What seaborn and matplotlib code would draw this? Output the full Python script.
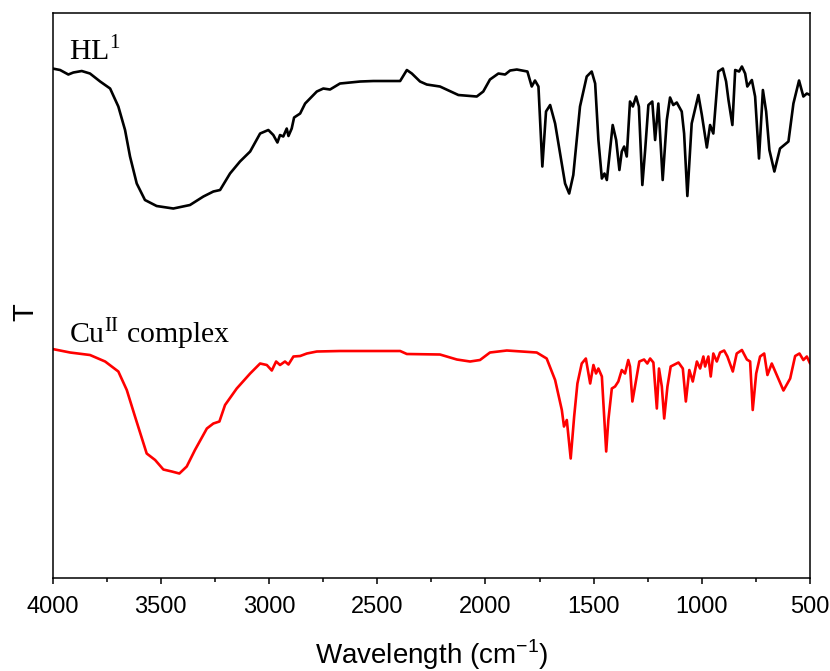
import numpy as np
import pandas as pd
import matplotlib
matplotlib.use("Agg")
import matplotlib.pyplot as plt
from matplotlib.ticker import MultipleLocator
import seaborn as sns

# IR spectra (wavenumber in cm-1, T in arbitrary units)
hl_wn = [4000, 3965, 3927, 3904, 3865, 3827, 3780, 3734, 3696, 3665, 3642, 3611, 3573, 3519,
         3442, 3365, 3303, 3257, 3226, 3180, 3134, 3087, 3041, 3003, 2980, 2961, 2949, 2934,
         2918, 2910, 2895, 2884, 2856, 2833, 2779, 2749, 2718, 2672, 2625, 2579, 2518, 2394,
         2363, 2340, 2302, 2271, 2210, 2125, 2040, 2010, 1979, 1940, 1909, 1886, 1855, 1806,
         1786, 1771, 1755, 1737, 1720, 1701, 1678, 1647, 1632, 1613, 1594, 1563, 1532, 1509,
         1493, 1478, 1462, 1450, 1439, 1424, 1412, 1396, 1381, 1370, 1359, 1347, 1332, 1319,
         1304, 1291, 1275, 1262, 1247, 1229, 1216, 1201, 1181, 1162, 1147, 1132, 1116, 1093,
         1082, 1067, 1047, 1016, 1000, 977, 962, 947, 924, 903, 888, 877, 859, 846, 828, 815,
         800, 790, 769, 754, 736, 718, 703, 688, 665, 639, 600, 577, 551, 531, 515, 500]
hl_t = [106.3, 106.0, 105.1, 105.5, 105.8, 105.3, 103.7, 102.3, 98.7, 94.0, 88.7, 83.3, 80.0, 78.8,
        78.3, 79.0, 80.7, 81.7, 82.0, 85.3, 87.7, 89.7, 93.3, 94.0, 93.0, 91.5, 93.0, 92.7,
        94.3, 92.8, 94.3, 96.5, 97.3, 99.3, 101.7, 102.3, 102.1, 103.3, 103.5, 103.7, 103.8, 103.8,
        106.0, 105.3, 103.7, 103.1, 102.7, 101.0, 100.7, 101.7, 104.1, 105.3, 105.1, 105.9, 106.1, 105.7,
        102.7, 103.9, 102.7, 86.7, 97.7, 99.0, 95.3, 87.3, 83.3, 81.3, 85.0, 98.7, 104.7, 105.7,
        103.3, 92.0, 84.3, 85.3, 84.0, 90.0, 95.0, 92.0, 86.0, 89.7, 90.7, 88.7, 99.7, 98.7,
        100.7, 98.7, 83.0, 90.0, 99.0, 99.7, 92.0, 99.3, 84.0, 96.0, 100.5, 99.0, 99.5, 97.7,
        93.3, 80.8, 95.3, 101.0, 97.0, 90.5, 95.0, 93.3, 105.7, 106.3, 103.7, 100.0, 95.0, 106.0, 105.7, 106.7,
        105.3, 102.7, 104.0, 100.7, 88.3, 102.0, 97.7, 90.0, 85.7, 90.3, 91.7, 99.3, 103.9, 100.7, 101.3, 101.0]

cu_wn = [4000, 3919, 3827, 3757, 3696, 3657, 3619, 3565, 3526, 3488, 3449, 3414, 3380, 3342,
         3287, 3257, 3229, 3203, 3149, 3087, 3041, 3010, 2987, 2967, 2949, 2926, 2910, 2887,
         2856, 2825, 2779, 2672, 2394, 2363, 2210, 2132, 2071, 2025, 1979, 1901, 1763, 1717,
         1678, 1647, 1637, 1624, 1606, 1590, 1575, 1555, 1536, 1516, 1501, 1489, 1478, 1462,
         1442, 1432, 1416, 1401, 1386, 1370, 1355, 1340, 1332, 1321, 1309, 1289, 1267, 1252,
         1239, 1224, 1208, 1198, 1185, 1174, 1159, 1144, 1108, 1088, 1074, 1058, 1042, 1023,
         1008, 993, 985, 970, 959, 947, 931, 916, 897, 882, 857, 839, 815, 792, 777, 765,
         749, 731, 712, 697, 677, 654, 623, 592, 569, 549, 531, 515, 500]
cu_t = [50.2, 49.5, 49.0, 47.7, 45.7, 42.0, 36.7, 29.3, 28.0, 26.1, 25.7, 25.3, 26.7, 30.0,
        34.3, 35.3, 35.7, 39.0, 42.3, 45.3, 47.3, 47.0, 45.9, 47.7, 47.0, 47.7, 47.1, 48.7,
        48.8, 49.3, 49.7, 49.8, 49.8, 49.2, 49.1, 48.1, 47.7, 48.0, 49.5, 49.9, 49.5, 48.3,
        44.0, 38.0, 34.7, 36.0, 28.3, 36.7, 43.3, 47.3, 48.3, 43.3, 47.0, 45.3, 46.3, 44.7,
        29.7, 36.0, 42.3, 42.7, 43.7, 46.0, 45.3, 48.0, 46.7, 39.7, 42.7, 47.7, 48.1, 47.3,
        48.3, 47.5, 38.3, 46.3, 42.7, 36.3, 42.7, 46.7, 47.5, 46.3, 39.7, 46.0, 43.7, 47.7,
        46.3, 48.7, 46.7, 48.7, 44.7, 49.3, 47.7, 49.5, 49.9, 48.7, 45.7, 49.3, 50.0, 48.1, 47.7, 38.0,
        45.3, 48.7, 49.3, 45.0, 47.3, 45.0, 41.9, 44.3, 48.8, 49.3, 48.0, 48.7, 47.3]

hl = pd.DataFrame({"Wavenumber": hl_wn, "T": hl_t})
cu = pd.DataFrame({"Wavenumber": cu_wn, "T": cu_t})

sns.set_style("ticks")
plt.rcParams["font.family"] = ["Liberation Sans", "DejaVu Sans"]
plt.rcParams["mathtext.fontset"] = "custom"
plt.rcParams["mathtext.rm"] = "Liberation Serif"
plt.rcParams["mathtext.sf"] = "Liberation Sans"
plt.rcParams["text.color"] = "black"
plt.rcParams["axes.labelcolor"] = "black"
plt.rcParams["xtick.color"] = "black"
plt.rcParams["ytick.color"] = "black"

fig = plt.figure(figsize=(8.3, 6.71), dpi=100)
ax = fig.add_axes([0.0633, 0.1386, 0.9127, 0.842])

sns.lineplot(data=hl, x="Wavenumber", y="T", color="black", lw=1.9, sort=False, estimator=None,
             solid_joinstyle="round", ax=ax)
sns.lineplot(data=cu, x="Wavenumber", y="T", color="#ff0000", lw=1.9, sort=False, estimator=None,
             solid_joinstyle="round", ax=ax)

ax.set_xlim(4000, 500)
ax.set_ylim(4.4, 117.4)
ax.xaxis.set_major_locator(MultipleLocator(500))
ax.xaxis.set_minor_locator(MultipleLocator(250))
ax.set_yticks([])
ax.tick_params(axis="x", which="major", direction="out", length=4, width=1.1, pad=9, labelsize=17,
               color="black", labelcolor="black")
ax.tick_params(axis="x", which="minor", direction="out", length=3, width=1.1, color="black")
for s in ax.spines.values():
    s.set_linewidth(1.1)
    s.set_color("black")

ax.set_xlabel(r"Wavelength (cm$^{\mathsf{-1}}$)", fontsize=20, labelpad=14, color="black")
ax.set_ylabel("T", fontsize=21, color="black")
ax.yaxis.set_label_coords(-0.018, 0.47)

ax.text(3924, 108, r"HL$^{\mathrm{1}}$", family="Liberation Serif", fontsize=21.5, va="baseline", color="black")
ax.text(3924, 51.4, r"Cu$^{\mathrm{II}}$ complex", family="Liberation Serif", fontsize=21.5, va="baseline",
        color="black")

fig.savefig("out.png", dpi=100)
